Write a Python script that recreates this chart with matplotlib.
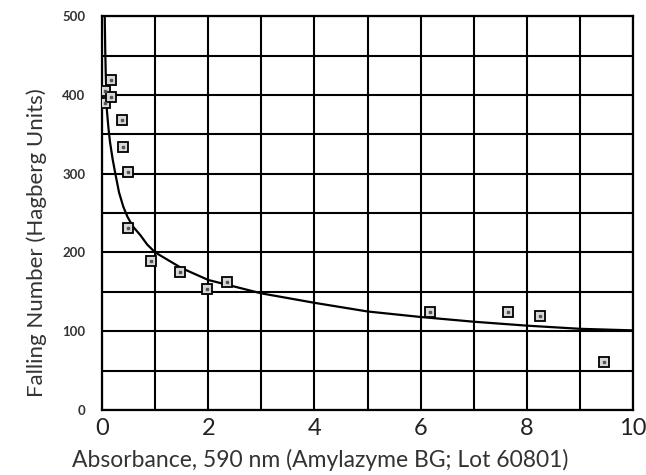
import numpy as np
import matplotlib.pyplot as plt

# measured points (absorbance, falling number)
pts_x = [0.05, 0.05, 0.17, 0.17, 0.38, 0.40, 0.49, 0.49, 0.93, 1.46, 1.98, 2.35, 6.18, 7.65, 8.25, 9.45]
pts_y = [405, 390, 419, 397, 368, 334, 302, 231, 189, 175, 153, 162, 124, 124, 119, 61]

# fitted curve
fit_x = [0.05, 0.06, 0.07, 0.09, 0.12, 0.15, 0.2, 0.25, 0.32, 0.4, 0.48, 0.58, 0.72, 0.85, 1.0, 1.5, 2.0, 3.0, 4.0, 5.0, 6.0, 7.0, 8.0, 9.0, 10.0]
fit_y = [500, 455, 425, 381, 358, 340, 318, 300, 276, 258, 245, 233, 222, 210, 200, 180, 165, 148, 136, 125, 118, 112, 107, 103, 101]

x_ticks = [0, 2, 4, 6, 8, 10]
y_ticks = [0, 100, 200, 300, 400, 500]

plt.rcParams["font.family"] = ["Lato", "DejaVu Sans"]

fig = plt.figure(figsize=(6.46, 4.75), dpi=100)
ax = fig.add_axes([0.158, 0.137, 0.822, 0.829])

ax.set_xlim(0, 10)
ax.set_ylim(0, 500)

ax.set_xticks(np.arange(0, 11, 1), minor=True)
ax.set_yticks(np.arange(0, 501, 50), minor=True)
ax.set_xticks(x_ticks)
ax.set_yticks(y_ticks)
ax.set_xticklabels([str(t) for t in x_ticks], fontsize=17, color="#222222")
ax.set_yticklabels([str(t) for t in y_ticks], fontsize=9.5, color="#333333", fontweight="bold")
ax.tick_params(which="both", length=0)
ax.tick_params(axis="x", pad=6)
ax.tick_params(axis="y", pad=12)

ax.grid(True, which="both", color="black", linewidth=1.5)
for s in ax.spines.values():
    s.set_linewidth(1.6)
    s.set_color("black")

ax.plot(fit_x, fit_y, color="black", linewidth=1.6, zorder=3)
ax.plot(pts_x, pts_y, linestyle="none", marker="s", markersize=6.5,
        markerfacecolor="#d8d8d8", markeredgecolor="black", markeredgewidth=1.3, zorder=4)
ax.plot(pts_x, pts_y, linestyle="none", marker="s", markersize=1.6,
        markerfacecolor="#555555", markeredgecolor="#555555", zorder=5)

ax.set_xlabel("Absorbance, 590 nm (Amylazyme BG; Lot 60801)", fontsize=16.5, color="#333333")
ax.set_ylabel("Falling Number (Hagberg Units)", fontsize=16, color="#333333")
ax.xaxis.set_label_coords(0.41, -0.1)
ax.yaxis.set_label_coords(-0.103, 0.426)

fig.savefig("out.png", dpi=100)
